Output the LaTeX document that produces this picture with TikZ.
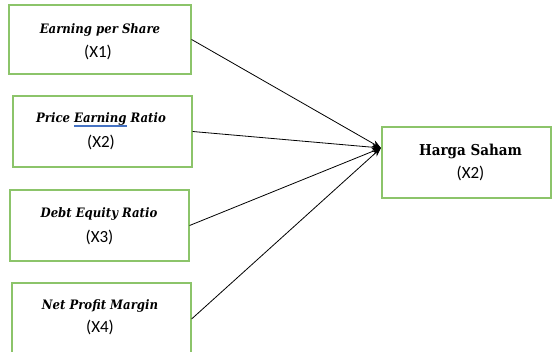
\documentclass[tikz,border=0pt]{standalone}
\usepackage{fontspec}
\setmainfont{DejaVu Serif Condensed}
\newfontfamily\calfont{Carlito}
\usetikzlibrary{arrows.meta}
\definecolor{boxgreen}{HTML}{8CC46A}
\definecolor{ulblue}{HTML}{4472C4}
\tikzset{
  varbox/.style={draw=boxgreen, line width=1.2pt, rectangle, inner sep=0pt},
  ttl/.style={anchor=base, inner sep=0pt, font=\fontsize{13}{16}\selectfont\bfseries\itshape},
  ttlup/.style={anchor=base, inner sep=0pt, font=\fontsize{15}{18}\selectfont\bfseries},
  sub/.style={anchor=base, inner sep=0pt, font=\calfont\fontsize{17}{20}\selectfont},
  link/.style={draw=black, line width=0.8pt, -{Stealth[length=9pt,width=7pt]}}
}
\newcommand{\blueul}[1]{\setbox0\hbox{#1}\rlap{\color{ulblue}\rule[-2.2pt]{\wd0}{0.6pt}\hspace{-\wd0}\rule[-3.6pt]{\wd0}{0.6pt}}\box0\relax}
\begin{document}
\begin{tikzpicture}[x=1pt,y=-1pt]
\useasboundingbox (0,0) rectangle (552,352);
% boxes
\node[varbox, minimum width=182pt, minimum height=69pt] (x1) at (100,39.5) {};
\node[varbox, minimum width=179pt, minimum height=71pt] (x2) at (102.5,131.5) {};
\node[varbox, minimum width=179pt, minimum height=71pt] (x3) at (99.5,225.5) {};
\node[varbox, minimum width=179pt, minimum height=72pt] (x4) at (101.5,319) {};
\node[varbox, minimum width=169pt, minimum height=71pt] (y) at (466.5,162.5) {};
% labels
\node[ttl] (x1t) at (100,34) {Earning per Share};
\node[sub] (x1s) at (98,58) {(X1)};
\node[ttl] (x2t) at (101,123) {Price \blueul{Earning} Ratio};
\node[sub] (x2s) at (101,148) {(X2)};
\node[ttl] (x3t) at (99,218) {Debt Equity Ratio};
\node[sub] (x3s) at (99.5,243) {(X3)};
\node[ttl] (x4t) at (100,310) {Net Profit Margin};
\node[sub] (x4s) at (100,333) {(X4)};
\node[ttlup] (yt) at (470.5,156) {Harga Saham};
\node[sub] (ys) at (470.5,179) {(X2)};
% connectors
\coordinate (tip) at (381,148);
\draw[link] (x1.east) -- (tip);
\draw[link] (x2.east) -- (tip);
\draw[link] (x3.east) -- (tip);
\draw[link] (x4.east) -- (tip);
\end{tikzpicture}
\end{document}
